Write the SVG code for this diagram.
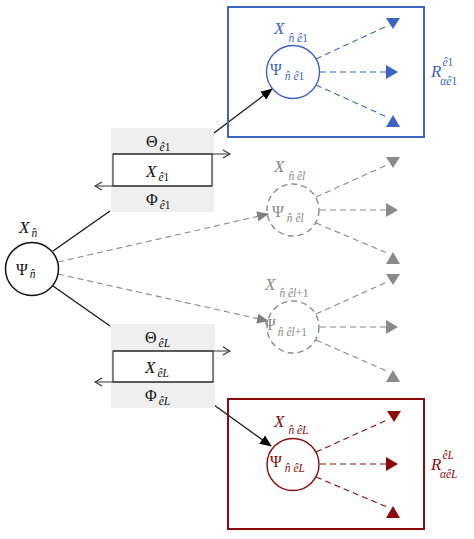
<svg xmlns="http://www.w3.org/2000/svg" width="474" height="539" viewBox="0 0 474 539">
<defs>
<style>
text{font-family:"Liberation Serif","DejaVu Serif",serif;}
.m{font-style:italic;font-size:17px;}
.g{font-size:16px;}
.s{font-size:11.5px;font-style:italic;}
.u{font-style:normal;}
.blue{fill:#3d63c4;}
.red{fill:#8b0a0a;}
.gry{fill:#8a8a8a;}
.blk{fill:#111;}
.dash{fill:none;stroke-width:1.1;stroke-dasharray:6 4;}
</style>
<marker id="ablk" viewBox="0 0 12 10" refX="11" refY="5" markerWidth="12" markerHeight="10" markerUnits="userSpaceOnUse" orient="auto"><path d="M0,0 L12,5 L0,10 Z" fill="#000"/></marker>
<marker id="agry" viewBox="0 0 12 10" refX="11" refY="5" markerWidth="12" markerHeight="10" markerUnits="userSpaceOnUse" orient="auto"><path d="M0,0 L12,5 L0,10 Z" fill="#808080"/></marker>
<marker id="aopen" viewBox="0 0 10 10" refX="9" refY="5" markerWidth="10" markerHeight="10" markerUnits="userSpaceOnUse" orient="auto"><path d="M2,1 L9,5 L2,9" fill="none" stroke="#333" stroke-width="1.2"/></marker>
</defs>
<rect width="474" height="539" fill="#fff"/>

<g id="connectors">
<line x1="53" y1="251" x2="110" y2="211" stroke="#111" stroke-width="1.2"/>
<line x1="53" y1="286" x2="110" y2="326" stroke="#111" stroke-width="1.2"/>
<line x1="214" y1="133" x2="272" y2="89" stroke="#111" stroke-width="1.2" marker-end="url(#ablk)"/>
<line x1="214" y1="405" x2="271" y2="446" stroke="#111" stroke-width="1.2" marker-end="url(#ablk)"/>
<line x1="58" y1="262" x2="268" y2="214" class="dash" stroke="#8a8a8a" marker-end="url(#agry)"/>
<line x1="58" y1="274" x2="268" y2="321" class="dash" stroke="#8a8a8a" marker-end="url(#agry)"/>
</g>

<g id="edge-e1">
<rect x="111" y="128" width="103" height="84" fill="#efefef"/>
<rect x="113" y="154" width="99" height="32" fill="#fff" stroke="#333" stroke-width="1.2"/>
<line x1="113" y1="154" x2="230" y2="154" stroke="#333" stroke-width="1.2" marker-end="url(#aopen)"/>
<line x1="212" y1="186" x2="95" y2="186" stroke="#333" stroke-width="1.2" marker-end="url(#aopen)"/>
<text x="146" y="147" class="g blk">Θ<tspan class="s" dy="4" dx="2">ê<tspan class="u">1</tspan></tspan></text>
<text x="146" y="177" class="m blk">X<tspan class="s" dy="4" dx="2">ê<tspan class="u">1</tspan></tspan></text>
<text x="146" y="205" class="g blk">Φ<tspan class="s" dy="4" dx="2">ê<tspan class="u">1</tspan></tspan></text>
</g>

<g id="edge-eL">
<rect x="111" y="324" width="104" height="84" fill="#efefef"/>
<rect x="113" y="351" width="100" height="31" fill="#fff" stroke="#333" stroke-width="1.2"/>
<line x1="113" y1="351" x2="230" y2="351" stroke="#333" stroke-width="1.2" marker-end="url(#aopen)"/>
<line x1="213" y1="382" x2="95" y2="382" stroke="#333" stroke-width="1.2" marker-end="url(#aopen)"/>
<text x="145" y="343" class="g blk">Θ<tspan class="s" dy="4" dx="2">êL</tspan></text>
<text x="145" y="373" class="m blk">X<tspan class="s" dy="4" dx="2">êL</tspan></text>
<text x="145" y="401" class="g blk">Φ<tspan class="s" dy="4" dx="2">êL</tspan></text>
</g>

<g id="node-n">
<circle cx="32" cy="269" r="26.5" fill="#fff" stroke="#111" stroke-width="1.5"/>
<text x="19" y="233" class="m blk">X<tspan class="s" dy="4" dx="2">n̂</tspan></text>
<text x="16" y="275" class="g blk">Ψ<tspan class="s" dy="3" dx="2">n̂</tspan></text>
</g>

<g id="node-e1">
<rect x="228" y="7" width="196" height="130" fill="none" stroke="#3d63c4" stroke-width="2"/>
<circle cx="293" cy="72" r="26.5" fill="none" stroke="#3d63c4" stroke-width="1.4"/>
<text x="274" y="34" class="m blue">X<tspan class="s" dy="8" dx="4">n̂ ê<tspan class="u">1</tspan></tspan></text>
<text x="270" y="75" class="g blue">Ψ<tspan class="s" dy="5" dx="3">n̂ ê<tspan class="u">1</tspan></tspan></text>
<g stroke="#3d63c4" class="dash"><line x1="316" y1="59" x2="387" y2="26"/><line x1="320" y1="72" x2="386" y2="72"/><line x1="316" y1="85" x2="387" y2="117"/></g>
<g class="blue"><polygon points="386,18 400,18 393,29"/><polygon points="386,65 386,79 398,72"/><polygon points="393,115 386,127 400,127"/></g>
<text x="431" y="77" class="m blue">R<tspan class="s" dy="-11" dx="1">ê<tspan class="u">1</tspan></tspan><tspan class="s" dy="19" dx="-13">αê<tspan class="u">1</tspan></tspan></text>
</g>

<g id="node-el">
<circle cx="293" cy="210" r="26" fill="none" stroke="#8a8a8a" stroke-width="1.4" stroke-dasharray="6 4"/>
<text x="274" y="172" class="m gry">X<tspan class="s" dy="8" dx="4">n̂ êl</tspan></text>
<text x="272" y="217" class="g gry">Ψ<tspan class="s" dy="5" dx="3">n̂ êl</tspan></text>
<g stroke="#8a8a8a" class="dash"><line x1="316" y1="197" x2="387" y2="165"/><line x1="320" y1="210" x2="386" y2="210"/><line x1="316" y1="223" x2="387" y2="253"/></g>
<g class="gry"><polygon points="386,157 400,157 393,168"/><polygon points="386,203 386,217 398,210"/><polygon points="393,252 386,264 400,264"/></g>
</g>

<g id="node-el1">
<circle cx="293" cy="327" r="26" fill="none" stroke="#8a8a8a" stroke-width="1.4" stroke-dasharray="6 4"/>
<text x="265" y="290" class="m gry">X<tspan class="s" dy="7" dx="4">n̂ êl<tspan class="u">+1</tspan></tspan></text>
<text x="264" y="330" class="g gry">Ψ<tspan class="s" dy="6" dx="2">n̂ êl<tspan class="u">+1</tspan></tspan></text>
<g stroke="#8a8a8a" class="dash"><line x1="316" y1="314" x2="387" y2="282"/><line x1="320" y1="327" x2="386" y2="327"/><line x1="316" y1="340" x2="387" y2="371"/></g>
<g class="gry"><polygon points="386,274 400,274 393,285"/><polygon points="386,320 386,334 398,327"/><polygon points="393,370 386,382 400,382"/></g>
</g>

<g id="node-eL">
<rect x="228" y="399" width="196" height="130" fill="none" stroke="#8b0a0a" stroke-width="2"/>
<circle cx="293" cy="464.5" r="26" fill="none" stroke="#8b0a0a" stroke-width="1.4"/>
<text x="274" y="427" class="m red">X<tspan class="s" dy="7" dx="4">n̂ êL</tspan></text>
<text x="270" y="467" class="g red">Ψ<tspan class="s" dy="5" dx="3">n̂ êL</tspan></text>
<g stroke="#8b0a0a" class="dash"><line x1="316" y1="452" x2="387" y2="420"/><line x1="320" y1="464" x2="386" y2="464"/><line x1="316" y1="477" x2="387" y2="507"/></g>
<g class="red"><polygon points="387,411 401,411 394,422"/><polygon points="386,457 386,471 398,464"/><polygon points="393,506 386,518 400,518"/></g>
<text x="431" y="470" class="m red">R<tspan class="s" dy="-11" dx="1">êL</tspan><tspan class="s" dy="19" dx="-14">αêL</tspan></text>
</g>
</svg>
